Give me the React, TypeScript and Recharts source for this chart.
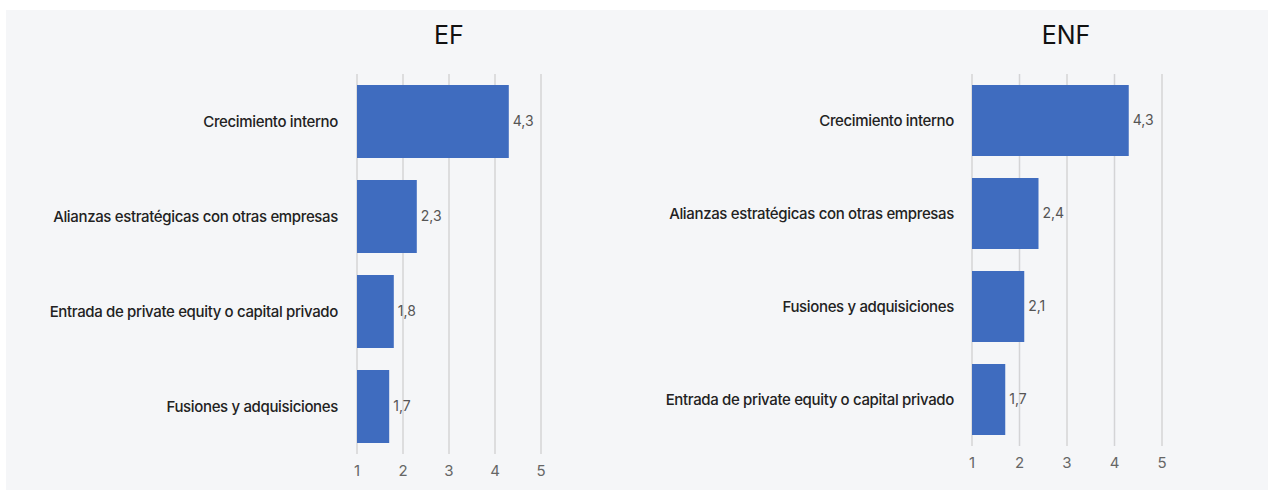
import React from "react";
import { BarChart, Bar, XAxis, YAxis, CartesianGrid, LabelList } from "recharts";

const efCategories = [
  "Crecimiento interno",
  "Alianzas estratégicas con otras empresas",
  "Entrada de private equity o capital privado",
  "Fusiones y adquisiciones",
];
const efValues = [4.3, 2.3, 1.8, 1.7];

const enfCategories = [
  "Crecimiento interno",
  "Alianzas estratégicas con otras empresas",
  "Fusiones y adquisiciones",
  "Entrada de private equity o capital privado",
];
const enfValues = [4.3, 2.4, 2.1, 1.7];

const xTicks = [1, 2, 3, 4, 5];
const titles = ["EF", "ENF"];

const BAR_COLOR = "#3f6cbf";
const FONT = "Inter, 'Noto Sans', sans-serif";

const fmt = (v: any) => String(v).replace(".", ",");

type PanelProps = {
  categories: string[];
  values: number[];
  left: number;
  width: number;
  yWidth: number;
  plotRight: number;
  top: number;
  bottom: number;
  barSize: number;
  labelGap: number;
};

function Panel({ categories, values, left, width, yWidth, plotRight, top, bottom, barSize, labelGap }: PanelProps) {
  const data = categories.map((c, i) => ({ name: c, value: values[i] }));
  const height = 492;
  return (
    <div style={{ position: "absolute", left, top: 0, width, height }}>
      <BarChart
        width={width}
        height={height}
        data={data}
        layout="vertical"
        margin={{ top, bottom: 0, left: 0, right: width - plotRight }}
        barSize={barSize}
      >
        <CartesianGrid horizontal={false} stroke="#d4d4d6" strokeWidth={1.5} />
        <XAxis
          type="number"
          domain={[1, 5]}
          ticks={xTicks}
          axisLine={false}
          tickLine={false}
          tickSize={0}
          tickMargin={11}
          height={height - bottom}
          tick={{ fill: "#666", fontSize: 15, fontFamily: FONT }}
          allowDataOverflow
        />
        <YAxis
          type="category"
          dataKey="name"
          width={yWidth}
          axisLine={false}
          tickLine={false}
          tickSize={0}
          tickMargin={labelGap}
          interval={0}
          tick={{
            fill: "#222",
            fontSize: 15,
            fontWeight: 500,
            letterSpacing: -0.35,
            fontFamily: FONT,
          }}
        />
        <Bar dataKey="value" fill={BAR_COLOR} isAnimationActive={false}>
          <LabelList
            dataKey="value"
            position="right"
            offset={4}
            formatter={fmt}
            style={{ fill: "#555", fontSize: 14, fontFamily: FONT }}
          />
        </Bar>
      </BarChart>
    </div>
  );
}

export default function App() {
  return (
    <div
      style={{
        position: "absolute",
        left: 0,
        top: 0,
        width: 1274,
        height: 492,
        background: "#ffffff",
        overflow: "hidden",
        fontFamily: FONT,
      }}
    >
      <div
        style={{
          position: "absolute",
          left: 6,
          top: 10,
          width: 1262,
          height: 480,
          background: "#f5f6f8",
        }}
      />
      <div
        style={{
          position: "absolute",
          left: 349,
          width: 200,
          top: 20,
          textAlign: "center",
          fontSize: 25,
          color: "#111",
          lineHeight: "30px",
        }}
      >
        {titles[0]}
      </div>
      <div
        style={{
          position: "absolute",
          left: 966,
          width: 200,
          top: 20,
          textAlign: "center",
          fontSize: 25,
          color: "#111",
          lineHeight: "30px",
        }}
      >
        {titles[1]}
      </div>
      <Panel
        categories={efCategories}
        values={efValues}
        left={0}
        width={640}
        yWidth={357}
        plotRight={541}
        top={74}
        bottom={454}
        barSize={73}
        labelGap={19}
      />
      <Panel
        categories={enfCategories}
        values={enfValues}
        left={640}
        width={634}
        yWidth={332}
        plotRight={522}
        top={74}
        bottom={446}
        barSize={71}
        labelGap={18}
      />
    </div>
  );
}
